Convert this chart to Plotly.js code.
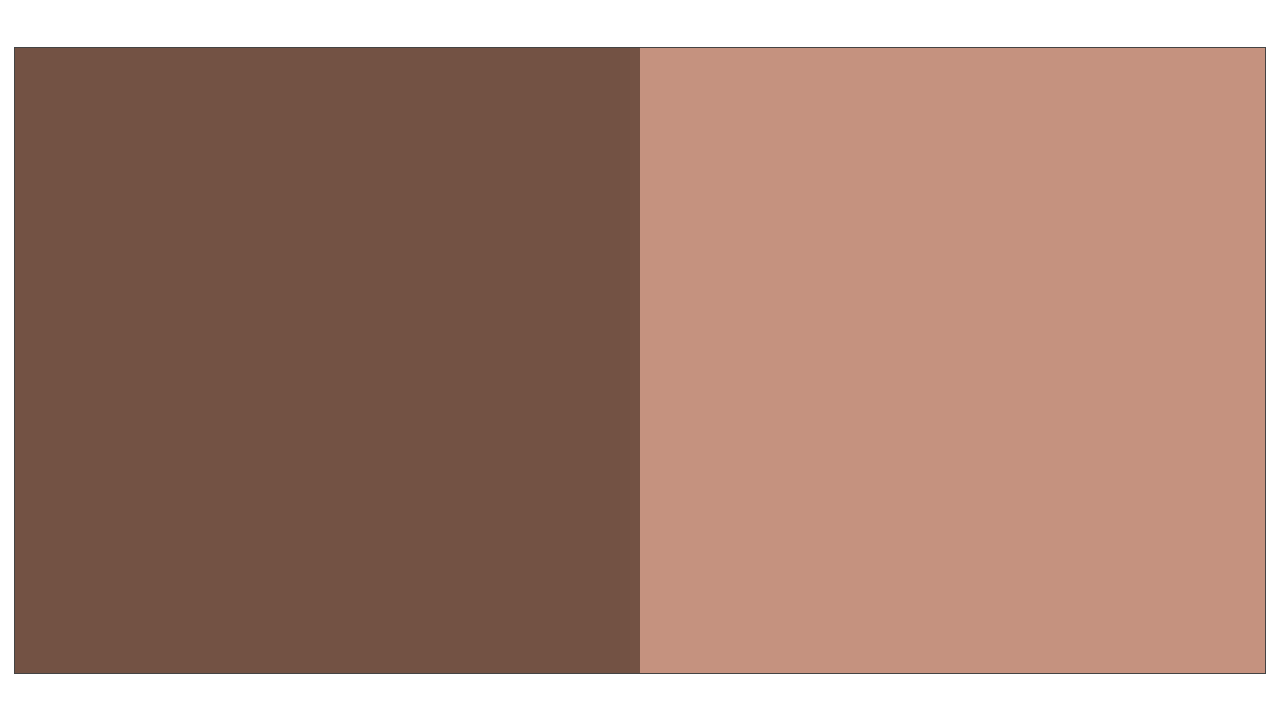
<!DOCTYPE html>
<html>
<head>
<meta charset="utf-8">
<script src="https://cdn.plot.ly/plotly-3.0.1.min.js"></script>
<style>
  html, body { margin: 0; padding: 0; background: #fff; }
  #chart { width: 1280px; height: 720px; }
</style>
</head>
<body>
<div id="chart"></div>
<script>
// two cells, side by side
var cells = ['left', 'right'];
var values = [0, 1];
var cellColors = ['#735244', '#c5927f'];

var trace = {
  type: 'heatmap',
  x: cells,
  y: ['row'],
  z: [values],
  colorscale: [[0, cellColors[0]], [1, cellColors[1]]],
  showscale: false,
  hoverinfo: 'skip',
  xgap: 0,
  ygap: 0
};

var layout = {
  width: 1280,
  height: 720,
  margin: {l: 15, r: 15, t: 48, b: 47},
  paper_bgcolor: '#fff',
  plot_bgcolor: '#fff',
  xaxis: {showticklabels: false, ticks: '', showgrid: false, zeroline: false,
          showline: true, mirror: true, linecolor: '#444', linewidth: 1.2},
  yaxis: {showticklabels: false, ticks: '', showgrid: false, zeroline: false,
          showline: true, mirror: true, linecolor: '#444', linewidth: 1.2},
  showlegend: false
};

Plotly.newPlot('chart', [trace], layout, {staticPlot: true});
</script>
</body>
</html>
